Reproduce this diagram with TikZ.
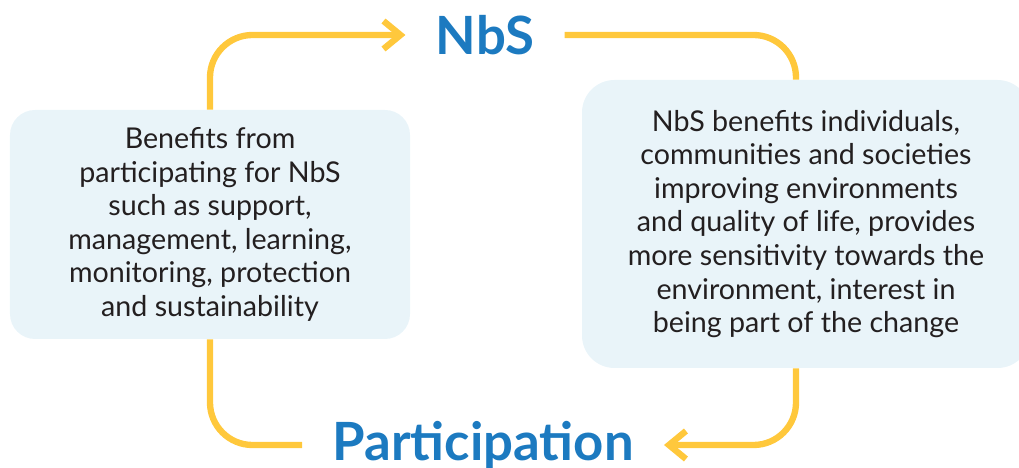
\documentclass[tikz,border=0pt]{standalone}
\usepackage{fontspec}
\setmainfont{Lato}
\usetikzlibrary{arrows.meta, positioning}

\definecolor{nbsyellow}{HTML}{FFC83C}
\definecolor{nbsblue}{HTML}{1C7AC0}
\definecolor{nbsbox}{HTML}{E9F4F9}
\definecolor{nbstext}{HTML}{231F20}

\begin{document}
\begin{tikzpicture}[
    infobox/.style={fill=nbsbox, draw=none, rounded corners=#1, align=center, text=nbstext, font=\fontsize{16.3}{19.1}\selectfont},
    infobox/.default=0.5cm,
    heading/.style={font=\fontsize{30}{32}\selectfont\bfseries, text=nbsblue, inner xsep=0.6cm, inner ysep=0pt},
    flow/.style={draw=nbsyellow, line width=3.6pt, rounded corners=0.85cm},
    flowarrow/.style={flow, -{Straight Barb[length=3.4mm, width=5.6mm, line width=3.6pt]}}
]
\useasboundingbox (0,0) rectangle (20.38,9.36);

% --- Boxes ---
\node[infobox, minimum width=8cm, minimum height=4.58cm] (benefit) at (4.2, 4.87)
    {Benefits from\\participating for NbS\\such as support,\\management, learning,\\monitoring, protection\\and sustainability};
\node[infobox=0.65cm, minimum width=8.96cm, minimum height=5.76cm] (impact) at (16.12, 4.88)
    {NbS benefits individuals,\\communities and societies\\improving environments\\and quality of life, provides\\more sensitivity towards the\\environment, interest in\\being part of the change};

% --- Headings ---
\node[heading] (nbs)  at (9.70, 8.66) {NbS};
\node[heading] (part) at (9.66, 0.46) {Participation};

% --- Cycle ---
\draw[flowarrow] (benefit.north) |- (nbs.west);
\draw[flow] (nbs.east) -| ([xshift=-0.2cm]impact.north);
\draw[flowarrow] ([xshift=-0.2cm]impact.south) |- (part.east);
\draw[flow] (benefit.south) |- (part.west);

\end{tikzpicture}
\end{document}
